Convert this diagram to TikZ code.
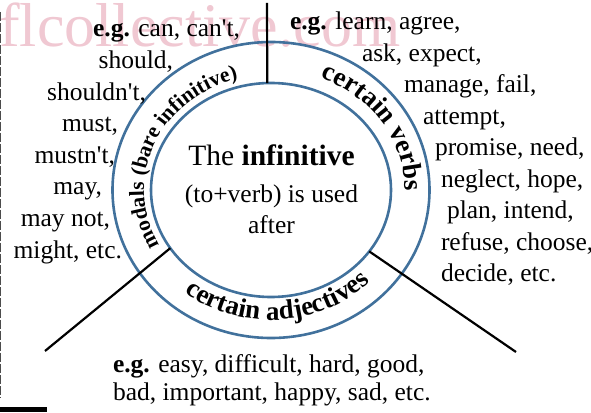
\documentclass[tikz,border=0pt]{standalone}
\usepackage{fontspec}
\setmainfont{Liberation Serif}
\usetikzlibrary{shapes.geometric,decorations.text}
\definecolor{ringblue}{RGB}{65,113,156}
\definecolor{wmpink}{RGB}{240,200,210}
\newcommand{\arcbigfont}{\bfseries\fontsize{27}{30}\selectfont}
\newcommand{\arcsmallfont}{\bfseries\fontsize{21.5}{24}\selectfont}
\begin{document}
\begin{tikzpicture}[x=1pt,y=1pt,
  ring/.style={ellipse, draw=ringblue, line width=2.6pt, inner sep=0pt, outer sep=0pt},
  conn/.style={draw=black, line width=2.2pt},
  lst/.style={inner sep=0pt, outer sep=0pt, font=\fontsize{25.5}{30}\selectfont},
  lstL/.style={lst, anchor=base east},
  lstR/.style={lst, anchor=base west},
  ctr/.style={lst, anchor=base},
  wmark/.style={inner sep=0pt, anchor=base west, text=wmpink, font=\fontsize{62}{62}\selectfont}
]
\useasboundingbox (0,0) rectangle (591,412);
% watermark
\node[wmark] (wm) at (-1,365) {flcollective.com};
% left edge marks
\coordinate (edgetop) at (0.7,400);
\coordinate (edgebot) at (0.7,14);
\draw[black!70, line width=1.3pt, dash pattern=on 9pt off 2pt] (edgetop) -- (edgebot);
\fill[black] (0,0) rectangle (47,5.5);
% rings
\node[ring, minimum width=317pt, minimum height=296pt] (outer) at (271,222) {};
\node[ring, minimum width=240pt, minimum height=214pt] (inner) at (271,222) {};
% connectors
\coordinate (topend) at (267,409);
\coordinate (llend) at (45,61);
\coordinate (lrend) at (516,60);
\draw[conn] (topend) -- (inner.92);
\draw[conn] (inner.210) -- (llend);
\draw[conn] (inner.-32.3) -- (lrend);
% curved labels
\path[decorate, decoration={text along path, text align=center,
  text={|\arcbigfont|certain verbs}}]
  (271,222) ++(75:134 and 121) arc[start angle=75, end angle=-8, x radius=134, y radius=121];
\path[decorate, decoration={text along path, text align=center,
  text={|\arcsmallfont|modals (bare infinitive)}}]
  (271,222) ++(215:127 and 115) arc[start angle=215, end angle=99, x radius=127, y radius=115];
\path[decorate, decoration={text along path, text align=center,
  text={|\arcbigfont|certain adjectives}}]
  (271,222) ++(222:141 and 130) arc[start angle=222, end angle=325, x radius=141, y radius=130];
% centre text
\node[ctr, font=\fontsize{29.5}{34}\selectfont] (c1) at (271.5,246) {The \textbf{infinitive}};
\node[ctr] (c2) at (271.5,209) {(to+verb) is used};
\node[ctr] (c3) at (271.5,178) {after};
% left list
\node[lstL] (l1) at (240,375) {\textbf{e.g.} can, can\textquotesingle t,};
\node[lstL] (l2) at (173,343.4) {should,};
\node[lstL] (l3) at (146,311.8) {shouldn\textquotesingle t,};
\node[lstL] (l4) at (118,280.2) {must,};
\node[lstL] (l5) at (115,248.6) {mustn\textquotesingle t,};
\node[lstL] (l6) at (102,217) {may,};
\node[lstL] (l7) at (110,185.4) {may not,};
\node[lstL] (l8) at (122,153.8) {might, etc.};
% right list
\node[lstR] (r1) at (290,382) {\textbf{e.g.} learn, agree,};
\node[lstR] (r2) at (362,350.5) {ask, expect,};
\node[lstR] (r3) at (404,319) {manage, fail,};
\node[lstR] (r4) at (423,287.5) {attempt,};
\node[lstR] (r5) at (435,256) {promise, need,};
\node[lstR] (r6) at (441,224.5) {neglect, hope,};
\node[lstR] (r7) at (447,193) {plan, intend,};
\node[lstR] (r8) at (441,161.5) {refuse, choose,};
\node[lstR] (r9) at (441,130) {decide, etc.};
% bottom list
\node[lstR] (b1) at (113,39) {\textbf{e.g.} easy, difficult, hard, good,};
\node[lstR] (b2) at (113,11.5) {bad, important, happy, sad, etc.};
\end{tikzpicture}
\end{document}
